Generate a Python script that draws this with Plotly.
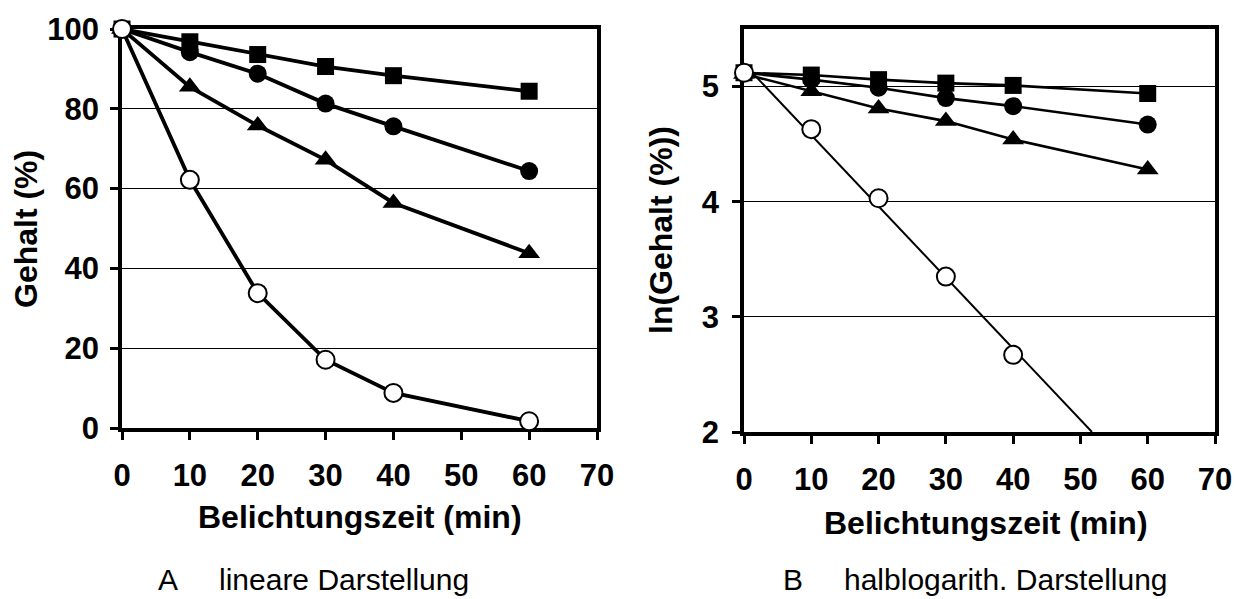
import numpy as np
import plotly.graph_objects as go

W, H = 1236, 599

# Exposure time (min)
zeit = [0, 10, 20, 30, 40, 60]
zeit_offen = [0, 10, 20, 30, 40]

# Panel A: content (%)
gehalt_quadrat = [100, 96.8, 93.6, 90.6, 88.3, 84.4]
gehalt_kreis = [100, 94.2, 88.8, 81.3, 75.6, 64.4]
gehalt_dreieck = [100, 85.5, 75.8, 67.2, 56.4, 43.8]
gehalt_offen = [100, 62.2, 33.8, 17.1, 8.8, 1.7]

# Panel B: ln(content)
ln_quadrat = [5.12, 5.10, 5.06, 5.03, 5.01, 4.94]
ln_kreis = [5.12, 5.06, 4.99, 4.90, 4.83, 4.67]
ln_dreieck = [5.11, 4.96, 4.81, 4.70, 4.54, 4.28]
ln_offen = [5.12, 4.63, 4.03, 3.35, 2.67]

x_ticks = [0, 10, 20, 30, 40, 50, 60, 70]
y_ticks_a = [0, 20, 40, 60, 80, 100]
y_ticks_b = [2, 3, 4, 5]

FONT = "Liberation Sans, Arial, sans-serif"


def px_x(p):
    return p / W


def px_y(p):
    return 1 - p / H


fig = go.Figure()


def add_series(x, y, symbol, xa, ya, lw, filled=True, mode="lines+markers", size=16):
    fig.add_trace(go.Scatter(
        x=x, y=y, mode=mode, xaxis=xa, yaxis=ya,
        line=dict(color="black", width=lw),
        marker=dict(symbol=symbol, size=size,
                    color="black" if filled else "white",
                    line=dict(color="black", width=2 if not filled else 0)),
        cliponaxis=False, showlegend=False, hoverinfo="skip",
    ))


# Panel A
add_series(zeit, gehalt_quadrat, "square", "x", "y", 3.8, size=17)
add_series(zeit, gehalt_kreis, "circle", "x", "y", 3.8, size=18)
add_series(zeit, gehalt_dreieck, "triangle-up", "x", "y", 3.8, size=19)
add_series(zeit, gehalt_offen, "circle", "x", "y", 3.8, filled=False, size=18)

# Panel B
add_series(zeit, ln_quadrat, "square", "x2", "y2", 2.6, size=17)
add_series(zeit, ln_kreis, "circle", "x2", "y2", 2.6, size=18)
add_series(zeit, ln_dreieck, "triangle-up", "x2", "y2", 2.6, size=19)

# Linear regression of ln(content) for the open-circle series
slope, intercept = np.polyfit(zeit_offen, ln_offen, 1)
x_end = (2 - intercept) / slope
fit_x = [0, x_end]
fit_y = [intercept + slope * xv for xv in fit_x]
fig.add_trace(go.Scatter(x=fit_x, y=fit_y, mode="lines", xaxis="x2", yaxis="y2",
                         line=dict(color="black", width=2), showlegend=False,
                         hoverinfo="skip"))
add_series(zeit_offen, ln_offen, "circle", "x2", "y2", 0, filled=False,
           mode="markers", size=18)

tickfont = dict(family=FONT, size=31, color="black", weight="bold")
axis_common = dict(
    showline=True, linewidth=3.5, linecolor="black", mirror=True,
    ticks="outside", ticklen=8, tickwidth=3, tickcolor="black",
    tickfont=tickfont, zeroline=False, layer="below traces", automargin=False,
)

fig.update_layout(
    width=W, height=H,
    margin=dict(l=0, r=0, t=0, b=0, pad=0, autoexpand=False),
    paper_bgcolor="white", plot_bgcolor="white",
    xaxis=dict(domain=[px_x(122), px_x(597)], range=[0, 70], tickvals=x_ticks,
               showgrid=False, anchor="y", ticklabelstandoff=9, **axis_common),
    yaxis=dict(domain=[px_y(428), px_y(29)], range=[0, 100], tickvals=y_ticks_a,
               showgrid=True, gridcolor="black", gridwidth=1, anchor="x",
               ticklabelstandoff=5, **axis_common),
    xaxis2=dict(domain=[px_x(744), px_x(1215)], range=[0, 70], tickvals=x_ticks,
                showgrid=False, anchor="y2", ticklabelstandoff=9, **axis_common),
    yaxis2=dict(domain=[px_y(432), px_y(29)], range=[2, 5.5], tickvals=y_ticks_b,
                showgrid=True, gridcolor="black", gridwidth=1, anchor="x2",
                ticklabelstandoff=7, **axis_common),
)

titlefont = dict(family=FONT, size=32, color="black", weight="bold")
subfont = dict(family=FONT, size=30, color="black")


def note(text, x, y, font, xanchor="center", angle=0):
    fig.add_annotation(text=text, x=px_x(x), y=px_y(y), xref="paper", yref="paper",
                       showarrow=False, font=font, xanchor=xanchor, yanchor="middle",
                       textangle=angle)


note("Belichtungszeit (min)", 360, 517, titlefont)
note("Belichtungszeit (min)", 986, 523, titlefont)
note("Gehalt (%)", 26, 229, titlefont, angle=-90)
note("ln(Gehalt (%))", 661, 230, titlefont, angle=-90)
note("A", 168, 579, subfont)
note("lineare Darstellung", 217, 579, subfont, xanchor="left")
note("B", 793, 579, subfont)
note("halblogarith. Darstellung", 842, 579, subfont, xanchor="left")

fig.write_html("out.html")
